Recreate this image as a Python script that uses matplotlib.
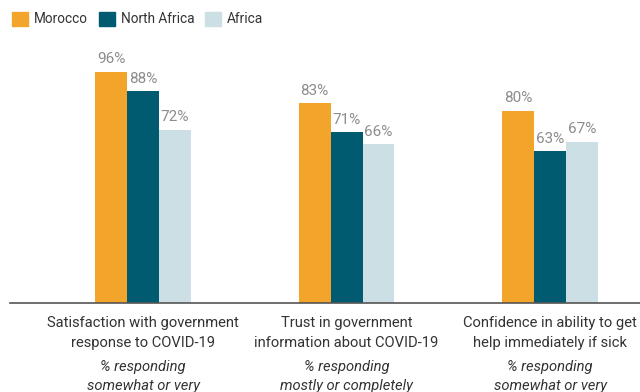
import matplotlib.pyplot as plt
import matplotlib.patches as mpatches
import numpy as np

plt.rcParams["font.family"] = ["Roboto", "DejaVu Sans"]

categories = [
    "Satisfaction with government\nresponse to COVID-19",
    "Trust in government\ninformation about COVID-19",
    "Confidence in ability to get\nhelp immediately if sick",
]
subtitles = [
    "% responding\nsomewhat or very",
    "% responding\nmostly or completely",
    "% responding\nsomewhat or very",
]
series = ["Morocco", "North Africa", "Africa"]
morocco = [96, 83, 80]
north_africa = [88, 71, 63]
africa = [72, 66, 67]
colors = ["#F2A52A", "#005B70", "#CCDFE4"]

fig = plt.figure(figsize=(6.4, 3.92), dpi=100)
# axes spans from x=10px to the right edge; baseline at y=303px
ax = fig.add_axes([10 / 640, (392 - 303) / 392, 630 / 640, (303 - 62.4) / 392])

x = np.arange(len(categories))
width = 0.157
for i, (name, vals, c) in enumerate(zip(series, [morocco, north_africa, africa], colors)):
    pos = x + (i - 1) * width
    ax.bar(pos, vals, width, color=c, label=name)
    for p, v in zip(pos, vals):
        ax.text(p, v + 2.3, f"{v}%", ha="center", va="bottom", fontsize=11, color="#8C8C8C")

ax.set_xlim(-0.654, 2.442)
ax.set_ylim(0, 100)
for s in ["top", "right", "left"]:
    ax.spines[s].set_visible(False)
ax.spines["bottom"].set_color("#555555")
ax.spines["bottom"].set_linewidth(1.2)
ax.set_yticks([])
ax.set_xticks([])

for xi, cat, sub in zip(x, categories, subtitles):
    ax.text(xi, -5.6, cat, ha="center", va="top", fontsize=10.6, color="#333333",
            linespacing=1.5, clip_on=False)
    ax.text(xi, -23.5, sub, ha="center", va="top", fontsize=10.6, color="#333333",
            style="italic", linespacing=1.5, clip_on=False)

handles = [mpatches.Patch(color=c, label=n) for n, c in zip(series, colors)]
fig.legend(handles=handles, loc="upper left", bbox_to_anchor=(0.004, 0.994), ncol=3,
           frameon=False, fontsize=9.8, handlelength=1.2, handleheight=1.2,
           handletextpad=0.4, columnspacing=0.8, labelcolor="#333333",
           borderaxespad=0.3)

fig.savefig("out.png", dpi=100)
